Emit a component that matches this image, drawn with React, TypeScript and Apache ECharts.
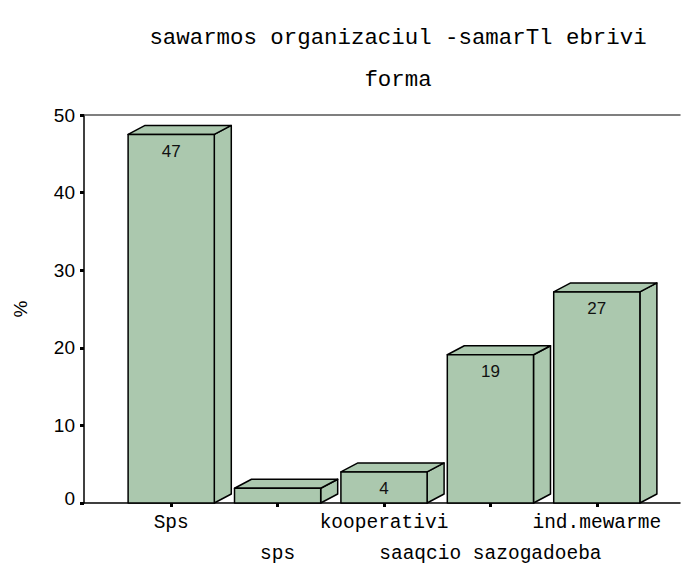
import React, { useEffect, useRef } from 'react';
import * as echarts from 'echarts';

const titleLines = ['sawarmos organizaciul -samarTl ebrivi', 'forma'];
const categories = ['Sps', 'sps', 'kooperativi', 'saaqcio sazogadoeba', 'ind.mewarme'];
const values = [47.5, 1.9, 4, 19.1, 27.2];
const barLabels = ['47', '', '4', '19', '27'];
const yMin = 0;
const yMax = 50;
const yStep = 10;
const yName = '%';

const BAR_COLOR = '#abc8ae';
const MONO = '"Liberation Mono", "DejaVu Sans Mono", monospace';
const SANS = '"Liberation Sans", Arial, sans-serif';

export default function App() {
  const ref = useRef<HTMLDivElement>(null);
  useEffect(() => {
    if (!ref.current) return;
    const chart = echarts.init(ref.current, null, { renderer: 'svg' });
    const grid0 = { left: 84, right: 13, top: 115, bottom: 66, containLabel: false, outerBoundsMode: 'none' };
    const grid1 = { left: 118, right: 43, top: 115, bottom: 66, containLabel: false, outerBoundsMode: 'none' };
    const option: any = {
      animation: false,
      backgroundColor: '#ffffff',
      title: {
        text: titleLines.join('\n'),
        left: 393,
        top: 12,
        textAlign: 'center',
        textStyle: {
          fontFamily: MONO,
          fontSize: 22.4,
          fontWeight: 'normal',
          color: '#000',
          lineHeight: 42,
        },
      },
      grid: [grid0, grid1],
      xAxis: [
        {
          gridIndex: 0,
          type: 'value',
          min: 0,
          max: 1,
          position: 'bottom',
          axisLine: { show: true, lineStyle: { color: '#000', width: 1.5 } },
          axisTick: { show: false },
          axisLabel: { show: false },
          splitLine: { show: false },
        },
        {
          gridIndex: 0,
          type: 'value',
          min: 0,
          max: 1,
          position: 'top',
          axisLine: { show: true, onZero: false, lineStyle: { color: '#555', width: 1.5 } },
          axisTick: { show: false },
          axisLabel: { show: false },
          splitLine: { show: false },
        },
        {
          gridIndex: 1,
          type: 'category',
          data: categories,
          boundaryGap: true,
          axisLine: { show: false },
          axisTick: { show: true, alignWithLabel: true, length: 4, lineStyle: { color: '#000', width: 3 } },
          axisLabel: {
            interval: 0,
            margin: 4,
            fontFamily: MONO,
            fontSize: 19.5,
            color: '#000',
            lineHeight: 31,
            formatter: (v: string, i: number) => (i % 2 === 1 ? '\n' + v : v),
          },
        },
      ],
      yAxis: [
        {
          gridIndex: 0,
          type: 'value',
          min: yMin,
          max: yMax,
          interval: yStep,
          name: yName,
          nameLocation: 'middle',
          nameGap: 54,
          nameRotate: 90,
          nameTextStyle: { fontFamily: SANS, fontSize: 19, color: '#000' },
          axisLine: { show: true, lineStyle: { color: '#000', width: 1.5 } },
          axisTick: { show: true, length: 4, lineStyle: { color: '#000', width: 3 } },
          axisLabel: {
            fontFamily: SANS,
            fontSize: 19,
            color: '#000',
            margin: 9,
            formatter: (v: number) => (v === 0 ? '{z|0}' : String(v)),
            rich: { z: { fontFamily: SANS, fontSize: 19, color: '#000', padding: [0, 0, 10, 0] } },
          },
          splitLine: { show: false },
        },
        {
          gridIndex: 1,
          type: 'value',
          min: yMin,
          max: yMax,
          show: false,
        },
      ],
      series: [
        {
          type: 'custom',
          xAxisIndex: 2,
          yAxisIndex: 1,
          data: values.map((v, i) => [i, v]),
          encode: { x: 0, y: 1 },
          renderItem: (params: any, api: any) => {
            const idx = api.value(0);
            const v = api.value(1);
            const base = api.coord([idx, 0]);
            const top = api.coord([idx, v]);
            const band = api.size([1, 0])[0];
            const w = band * 0.81;
            const x0 = base[0] - w / 2;
            const x1 = base[0] + w / 2;
            const yT = top[1];
            const yB = base[1];
            const dx = 17;
            const dy = 9;
            const style = { fill: BAR_COLOR, stroke: '#000', lineWidth: 1.5, lineJoin: 'round' };
            return {
              type: 'group',
              children: [
                {
                  type: 'polygon',
                  shape: { points: [[x1, yB], [x1 + dx, yB - dy], [x1 + dx, yT - dy], [x1, yT]] },
                  style,
                },
                {
                  type: 'polygon',
                  shape: { points: [[x0, yT], [x0 + dx, yT - dy], [x1 + dx, yT - dy], [x1, yT]] },
                  style,
                },
                {
                  type: 'rect',
                  shape: { x: x0, y: yT, width: w, height: yB - yT },
                  style,
                },
                {
                  type: 'text',
                  style: {
                    text: barLabels[params.dataIndex],
                    x: base[0],
                    y: yT + 17,
                    align: 'center',
                    verticalAlign: 'middle',
                    fontFamily: SANS,
                    fontSize: 17,
                    fill: '#111',
                  },
                },
              ],
            };
          },
        },
      ],
    };
    chart.setOption(option);
    return () => chart.dispose();
  }, []);
  return (
    <div
      ref={ref}
      style={{ position: 'fixed', left: 0, top: 0, width: 693, height: 569, background: '#fff' }}
    />
  );
}
